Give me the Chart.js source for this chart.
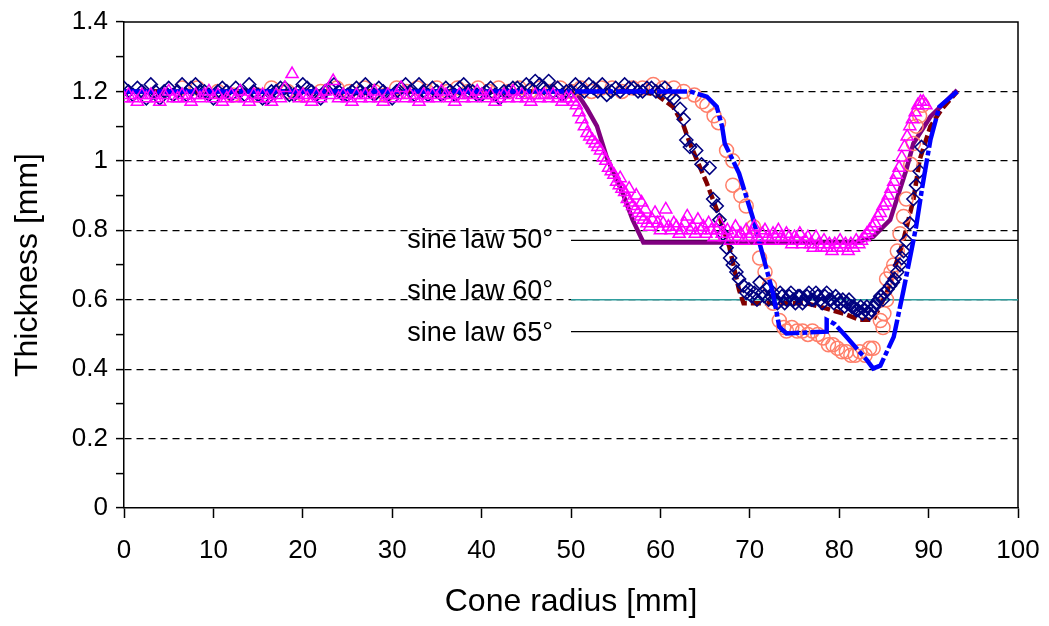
<!DOCTYPE html>
<html>
<head>
<meta charset="utf-8">
<script src="https://cdn.jsdelivr.net/npm/chart.js@4.4.1/dist/chart.umd.min.js"></script>
<style>
    html, body { margin: 0; padding: 0; background: #fff; }
    #chartBox { width: 1049px; height: 626px; }
</style>
</head>
<body>
<div id="chartBox"><canvas id="myChart" width="1049" height="626"></canvas></div>
<script>
// measured points [radius, thickness]
const meas50 = [
    [0,1.18],[0.5,1.19],[1,1.18],[1.5,1.17],[2,1.19],[2.5,1.18],[3,1.19],[3.5,1.18],[4,1.17],[4.5,1.19],
    [5,1.20],[5.5,1.18],[6,1.18],[6.5,1.19],[7,1.18],[7.5,1.17],[8,1.19],[8.5,1.18],[9,1.19],[9.5,1.20],
    [10,1.18],[10.5,1.19],[11,1.17],[11.5,1.18],[12,1.19],[12.5,1.18],[13,1.20],[13.5,1.18],[14,1.17],[14.5,1.19],
    [15,1.18],[15.5,1.19],[16,1.18],[16.5,1.17],[17,1.19],[17.5,1.18],[18,1.21],[18.8,1.25],[19.2,1.19],[19.6,1.18],
    [20,1.19],[20.5,1.18],[21,1.17],[21.5,1.19],[22,1.18],[22.5,1.20],[23,1.19],[23.4,1.23],[24,1.18],[24.5,1.19],
    [25,1.18],[25.5,1.17],[26,1.19],[26.5,1.18],[27,1.19],[27.5,1.18],[28,1.20],[28.5,1.18],[29,1.17],[29.5,1.19],
    [30,1.18],[30.5,1.19],[31,1.21],[31.5,1.18],[32,1.19],[32.5,1.18],[33,1.17],[33.5,1.19],[34,1.18],[34.5,1.19],
    [35,1.18],[35.5,1.20],[36,1.19],[36.5,1.18],[37,1.17],[37.5,1.19],[38,1.18],[38.5,1.19],[39,1.18],[39.5,1.20],
    [40,1.19],[40.5,1.18],[41,1.19],[41.5,1.17],[42,1.18],[42.5,1.19],[43,1.18],[43.5,1.20],[44,1.18],[44.5,1.19],
    [45,1.18],[45.5,1.17],[46,1.19],[46.5,1.18],[47,1.19],[47.5,1.18],[48,1.19],[48.5,1.18],[49,1.17],[49.5,1.18],
    [50,1.18],[50.3,1.17],[50.6,1.16],[50.9,1.14],[51.2,1.12],[51.5,1.10],[51.8,1.08],[52.1,1.07],[52.4,1.06],[52.7,1.05],
    [53.0,1.04],[53.3,1.03],[53.6,1.01],[53.9,1.00],[54.2,0.98],[54.5,0.97],[54.8,0.96],[55.1,0.94],[55.4,0.93],[55.5,0.95],
    [55.7,0.92],[56.0,0.91],[56.3,0.89],[56.5,0.92],[56.6,0.88],[56.9,0.87],[57.2,0.86],[57.3,0.90],[57.5,0.85],[57.8,0.84],
    [57.9,0.88],[58.1,0.83],[58.3,0.86],[58.5,0.82],[58.8,0.81],[59.1,0.83],[59.4,0.85],[59.7,0.82],[60.0,0.80],[60.3,0.82],
    [60.6,0.86],[60.9,0.81],[61.2,0.80],[61.5,0.82],[61.8,0.81],[62.1,0.79],[62.4,0.80],[62.7,0.82],[63.0,0.84],[63.3,0.80],
    [63.6,0.81],[63.9,0.79],[64.2,0.83],[64.5,0.80],[64.8,0.81],[65.1,0.79],[65.4,0.82],[65.7,0.80],[66.0,0.78],[66.3,0.80],
    [66.6,0.82],[66.9,0.79],[67.2,0.78],[67.5,0.80],[67.8,0.77],[68.1,0.79],[68.4,0.81],[68.7,0.78],[69.0,0.79],[69.3,0.77],
    [69.6,0.80],[69.9,0.78],[70.2,0.79],[70.5,0.81],[70.8,0.78],[71.1,0.77],[71.4,0.79],[71.7,0.80],[72.0,0.78],[72.3,0.77],
    [72.6,0.79],[72.9,0.78],[73.2,0.80],[73.5,0.78],[73.8,0.77],[74.1,0.79],[74.4,0.78],[74.7,0.76],[75.0,0.78],[75.3,0.77],
    [75.6,0.79],[75.9,0.76],[76.2,0.77],[76.5,0.78],[76.8,0.76],[77.1,0.75],[77.4,0.78],[77.7,0.76],[78.0,0.75],[78.3,0.77],
    [78.6,0.75],[78.9,0.76],[79.2,0.74],[79.5,0.76],[79.8,0.75],[80.1,0.77],[80.4,0.75],[80.7,0.76],[81.0,0.74],[81.3,0.76],
    [81.6,0.75],[81.9,0.77],[82.2,0.76],[82.5,0.77],[82.8,0.78],[83.1,0.79],[83.4,0.80],[83.7,0.81],[84.0,0.82],[84.3,0.84],
    [84.6,0.85],[84.9,0.87],[85.2,0.88],[85.5,0.90],[85.8,0.92],[86.1,0.94],[86.4,0.96],[86.7,0.98],[87.0,1.01],[87.3,1.04],
    [87.6,1.07],[87.9,1.10],[88.2,1.12],[88.5,1.14],[88.8,1.16],[89.1,1.17],[89.4,1.17],[89.7,1.16]
];
const meas60 = [
    [0,1.21],[0.5,1.20],[1,1.19],[1.5,1.21],[2,1.20],[2.5,1.18],[3,1.22],[3.5,1.20],[4,1.18],[4.5,1.20],
    [5,1.21],[5.5,1.19],[6,1.20],[6.5,1.22],[7,1.19],[7.5,1.21],[8,1.22],[8.5,1.20],[9,1.20],[9.5,1.19],
    [10,1.18],[10.5,1.20],[11,1.21],[11.5,1.20],[12,1.19],[12.5,1.21],[13,1.20],[13.5,1.19],[14,1.22],[14.5,1.20],
    [15,1.19],[15.5,1.18],[16,1.18],[16.5,1.20],[17,1.20],[17.5,1.21],[18,1.21],[18.5,1.19],[19,1.19],[19.5,1.20],
    [20,1.22],[20.5,1.21],[21,1.20],[21.5,1.19],[22,1.18],[22.5,1.20],[23,1.21],[23.5,1.22],[24,1.20],[24.5,1.19],
    [25,1.19],[25.5,1.20],[26,1.21],[26.5,1.20],[27,1.22],[27.5,1.20],[28,1.19],[28.5,1.21],[29,1.20],[29.5,1.19],
    [30,1.18],[30.5,1.20],[31,1.21],[31.5,1.22],[32,1.20],[32.5,1.19],[33,1.22],[33.5,1.20],[34,1.19],[34.5,1.21],
    [35,1.20],[35.5,1.19],[36,1.21],[36.5,1.20],[37,1.19],[37.5,1.21],[38,1.22],[38.5,1.20],[39,1.20],[39.5,1.19],
    [40,1.19],[40.5,1.20],[41,1.21],[41.5,1.19],[42,1.18],[42.5,1.20],[43,1.20],[43.5,1.21],[44,1.21],[44.5,1.20],
    [45,1.22],[45.5,1.21],[46,1.23],[46.5,1.22],[47,1.21],[47.5,1.23],[48,1.20],[48.5,1.21],[49,1.19],[49.5,1.20],
    [50,1.20],[50.5,1.22],[51,1.21],[51.5,1.20],[52,1.22],[52.5,1.21],[53,1.20],[53.5,1.22],[54,1.19],[54.5,1.20],
    [55,1.21],[55.5,1.20],[56,1.22],[56.5,1.21],[57,1.21],[57.5,1.20],[58,1.20],[58.5,1.21],[59,1.21],[59.5,1.20],
    [60,1.20],[60.5,1.21],[61,1.19],[61.5,1.18],[62.2,1.15],[62.6,1.12],[62.9,1.06],[63.3,1.04],[64.0,1.03],[64.6,0.99],
    [65.5,0.98],[65.9,0.89],[66.3,0.87],[66.6,0.83],[67.0,0.79],[67.4,0.75],[67.8,0.72],[68.1,0.70],[68.5,0.68],[68.8,0.66],
    [69.3,0.64],[69.6,0.62],[69.9,0.63],[70.2,0.61],[70.5,0.62],[70.8,0.60],[71.1,0.65],[71.4,0.62],[71.6,0.61],[71.9,0.63],
    [72.1,0.60],[72.4,0.61],[72.6,0.62],[72.9,0.60],[73.1,0.59],[73.4,0.62],[73.6,0.61],[73.9,0.59],[74.1,0.60],[74.4,0.61],
    [74.6,0.62],[74.9,0.60],[75.1,0.59],[75.4,0.61],[75.6,0.61],[75.9,0.59],[76.1,0.60],[76.4,0.61],[76.6,0.62],[76.9,0.60],
    [77.1,0.60],[77.4,0.62],[77.6,0.61],[77.9,0.60],[78.1,0.59],[78.4,0.61],[78.6,0.62],[78.9,0.60],[79.1,0.60],[79.4,0.59],
    [79.6,0.61],[79.9,0.60],[80.1,0.59],[80.4,0.60],[80.6,0.58],[80.9,0.59],[81.1,0.60],[81.4,0.58],[81.6,0.58],[81.9,0.57],
    [82.1,0.57],[82.4,0.58],[82.6,0.56],[82.9,0.57],[83.1,0.58],[83.4,0.56],[83.6,0.57],[83.9,0.58],[84.1,0.59],[84.4,0.60],
    [84.6,0.61],[84.9,0.60],[85.1,0.62],[85.4,0.63],[85.7,0.64],[86.0,0.65],[86.2,0.66],[86.5,0.68],[86.8,0.70],[87.0,0.72],
    [87.2,0.74],[87.5,0.77],[87.9,0.82],[88.3,0.89],[88.6,0.93],[89.0,0.97],[89.2,1.04]
];
const meas65 = [
    [6.5,1.21],[8.2,1.21],[10.5,1.20],[12.2,1.19],[14.9,1.19],[16.5,1.21],[18.3,1.20],[20.1,1.19],[22.0,1.20],[23.8,1.21],
    [25.2,1.20],[26.9,1.21],[28.0,1.20],[29.3,1.19],[30.5,1.21],[31.6,1.20],[32.8,1.21],[33.9,1.20],[35.0,1.21],[36.2,1.20],
    [37.3,1.21],[38.5,1.20],[39.6,1.21],[40.8,1.20],[41.9,1.21],[43.1,1.20],[44.2,1.21],[45.4,1.20],[46.5,1.21],[47.7,1.20],
    [48.8,1.21],[50.0,1.20],[51.1,1.21],[52.3,1.20],[53.4,1.21],[54.6,1.21],[55.7,1.20],[56.9,1.21],[58.0,1.21],[59.2,1.22],
    [60.3,1.21],[61.5,1.21],[62.6,1.20],[63.8,1.19],[64.7,1.17],[65.2,1.16],[66.0,1.13],[66.5,1.11],[67.4,1.03],[68.1,1.00],
    [68.1,0.93],[69.0,0.90],[69.6,0.87],[70.4,0.81],[71.1,0.72],[71.7,0.68],[72.2,0.64],[72.6,0.59],[73.3,0.54],[73.8,0.52],
    [74.1,0.51],[74.7,0.52],[75.3,0.51],[75.9,0.51],[76.5,0.50],[77.0,0.51],[77.6,0.50],[78.2,0.49],[78.8,0.47],[79.3,0.47],
    [79.8,0.46],[80.3,0.45],[80.8,0.45],[81.3,0.44],[81.8,0.44],[82.3,0.45],[82.9,0.44],[83.4,0.46],[83.8,0.46],[84.6,0.54],
    [84.9,0.52],[85.0,0.56],[85.3,0.60],[85.3,0.66],[85.8,0.68],[86.1,0.70],[86.5,0.74],[86.8,0.79],[87.2,0.84],[87.5,0.89],
    [88.0,0.99],[88.3,1.05],[88.6,1.10],[89.0,1.13],[89.3,1.16]
];

// simulated profiles
const sim50 = [
    [0,1.2],[50.5,1.2],[51.3,1.17],[51.8,1.15],[52.9,1.10],[54.0,1.01],[55.8,0.906],[56.9,0.83],[58.1,0.765],[82.0,0.765],
    [83.8,0.781],[85.7,0.83],[87.5,0.974],[88.3,1.05],[90.2,1.127],[93.2,1.204]
];
const sim60 = [
    [0,1.2],[57.8,1.2],[59.6,1.19],[61.4,1.156],[62.5,1.108],[63.3,1.05],[65.2,0.935],[66.6,0.839],[67.7,0.753],[68.8,0.628],
    [69.3,0.59],[76.3,0.59],[78.5,0.575],[80.5,0.56],[82.3,0.542],[83.8,0.542],[85.3,0.619],[87.1,0.763],[88.3,0.888],[89.0,1.003],
    [90.2,1.099],[91.5,1.15],[93.2,1.2]
];
const sim65 = [
    [0,1.2],[63.3,1.2],[65.2,1.185],[66.3,1.156],[66.9,1.099],[67.2,1.05],[68.8,0.964],[70.3,0.839],[71.8,0.695],[72.6,0.618],
    [73.3,0.522],[74.1,0.503],[78.6,0.508],[78.6,0.542],[79.5,0.53],[80.8,0.493],[83.1,0.426],[83.8,0.402],[84.6,0.41],[86.1,0.493],
    [87.2,0.628],[88.6,0.81],[89.3,0.926],[90.2,1.06],[91.2,1.156],[93.2,1.2]
];

// sine law reference lines
const sineLabels = ["sine law 50°", "sine law 60°", "sine law 65°"];
const sineValues = [0.771, 0.600, 0.508];
const sineRange = [50, 100];

const xTicks = [0, 100, 10];
const yTicks = [0, 1.4, 0.1];

function toPts(arr)
{
    return arr.map(function (p) { return {x: p[0], y: p[1]}; });
}

function sineLine(v)
{
    return [{x: sineRange[0], y: v}, {x: sineRange[1], y: v}];
}

const FONT = "'Liberation Sans', Arial, sans-serif";
Chart.defaults.font.family = FONT;
Chart.defaults.color = "#000";

// frame on top/right and the sine law captions
const extras = {
    id: "extras",
    beforeDatasetsDraw(chart)
    {
        let c = chart.ctx, a = chart.chartArea;
        c.save();
        c.strokeStyle = "#000";
        c.lineWidth = 1.5;
        c.beginPath();
        c.moveTo(a.left, a.top);
        c.lineTo(a.right, a.top);
        c.lineTo(a.right, a.bottom);
        c.stroke();
        c.restore();
    },
    afterDatasetsDraw(chart)
    {
        let c = chart.ctx;
        let xs = chart.scales.x, ys = chart.scales.y;
        let shift = [0, -8, 2];
        c.save();
        c.font = "27px " + FONT;
        c.fillStyle = "#000";
        c.textAlign = "right";
        c.textBaseline = "middle";
        for (let i = 0; i < sineLabels.length; i++)
        {
            c.fillText(sineLabels[i], xs.getPixelForValue(48), ys.getPixelForValue(sineValues[i]) + shift[i]);
        }
        c.restore();
    }
};

const hollow = "rgba(0,0,0,0)";

new Chart(document.getElementById("myChart"), {
    type: "scatter",
    data: {
        datasets: [
            {data: toPts(meas50), pointStyle: "triangle", pointRadius: 7, borderColor: "#ff00ff", backgroundColor: hollow, pointBorderWidth: 1.5},
            {data: toPts(sim65), showLine: true, pointRadius: 0, borderColor: "#0000ff", borderWidth: 4.5, borderDash: [30, 3, 5, 3]},
            {data: toPts(meas60), pointStyle: "rectRot", pointRadius: 6.5, borderColor: "#000080", backgroundColor: hollow, pointBorderWidth: 1.6},
            {data: toPts(meas65), pointStyle: "circle", pointRadius: 7, borderColor: "#ff7f6a", backgroundColor: hollow, pointBorderWidth: 1.5},
            {data: toPts(sim60), showLine: true, pointRadius: 0, borderColor: "#800000", borderWidth: 4.5, borderDash: [10, 4]},
            {data: toPts(sim50), showLine: true, pointRadius: 0, borderColor: "#800080", borderWidth: 4.5},
            {data: sineLine(sineValues[0]), showLine: true, pointRadius: 0, borderColor: "#000", borderWidth: 1.2},
            {data: sineLine(sineValues[1]), showLine: true, pointRadius: 0, borderColor: "#2f9e9e", borderWidth: 1.5},
            {data: sineLine(sineValues[2]), showLine: true, pointRadius: 0, borderColor: "#000", borderWidth: 1.2}
        ]
    },
    options: {
        responsive: false,
        animation: false,
        devicePixelRatio: 1,
        layout: {padding: {top: 22, right: 31, bottom: 5, left: 0}},
        plugins: {legend: {display: false}, tooltip: {enabled: false}},
        scales: {
            x: {
                type: "linear",
                min: xTicks[0],
                max: xTicks[1],
                afterFit: function (s)
                {
                    s.height = 113;
                    s.paddingLeft = 0;
                    s.paddingRight = 0;
                },
                ticks: {stepSize: xTicks[2], font: {size: 26}, padding: 17, maxRotation: 0},
                grid: {drawOnChartArea: false, tickLength: 10, tickColor: "#000", tickWidth: 1.5},
                border: {color: "#000", width: 1.5},
                title: {display: true, text: "Cone radius [mm]", font: {size: 32, lineHeight: 1.2}, padding: {top: 0, bottom: 0}}
            },
            y: {
                type: "linear",
                min: yTicks[0],
                max: yTicks[1],
                afterFit: function (s)
                {
                    s.width = 124;
                    s.paddingTop = 0;
                    s.paddingBottom = 0;
                },
                ticks: {
                    stepSize: yTicks[2],
                    autoSkip: false,
                    font: {size: 26},
                    padding: 8,
                    callback: function (v)
                    {
                        let k = Math.round(v * 10);
                        return k % 2 === 0 ? String(Number((k / 10).toFixed(1))) : "";
                    }
                },
                grid: {
                    color: function (ctx)
                    {
                        let k = Math.round(ctx.tick.value * 10);
                        return (k % 2 === 0 && k > 0 && k < 14) ? "#000" : "rgba(0,0,0,0)";
                    },
                    lineWidth: 1.2,
                    tickLength: 8,
                    tickColor: "#000",
                    tickWidth: 1.5
                },
                border: {color: "#000", width: 1.5, dash: [7, 5]},
                title: {display: true, text: "Thickness [mm]", font: {size: 32, lineHeight: 1.2}, padding: {top: 9, bottom: 0}}
            }
        }
    },
    plugins: [extras]
});
</script>
</body>
</html>
